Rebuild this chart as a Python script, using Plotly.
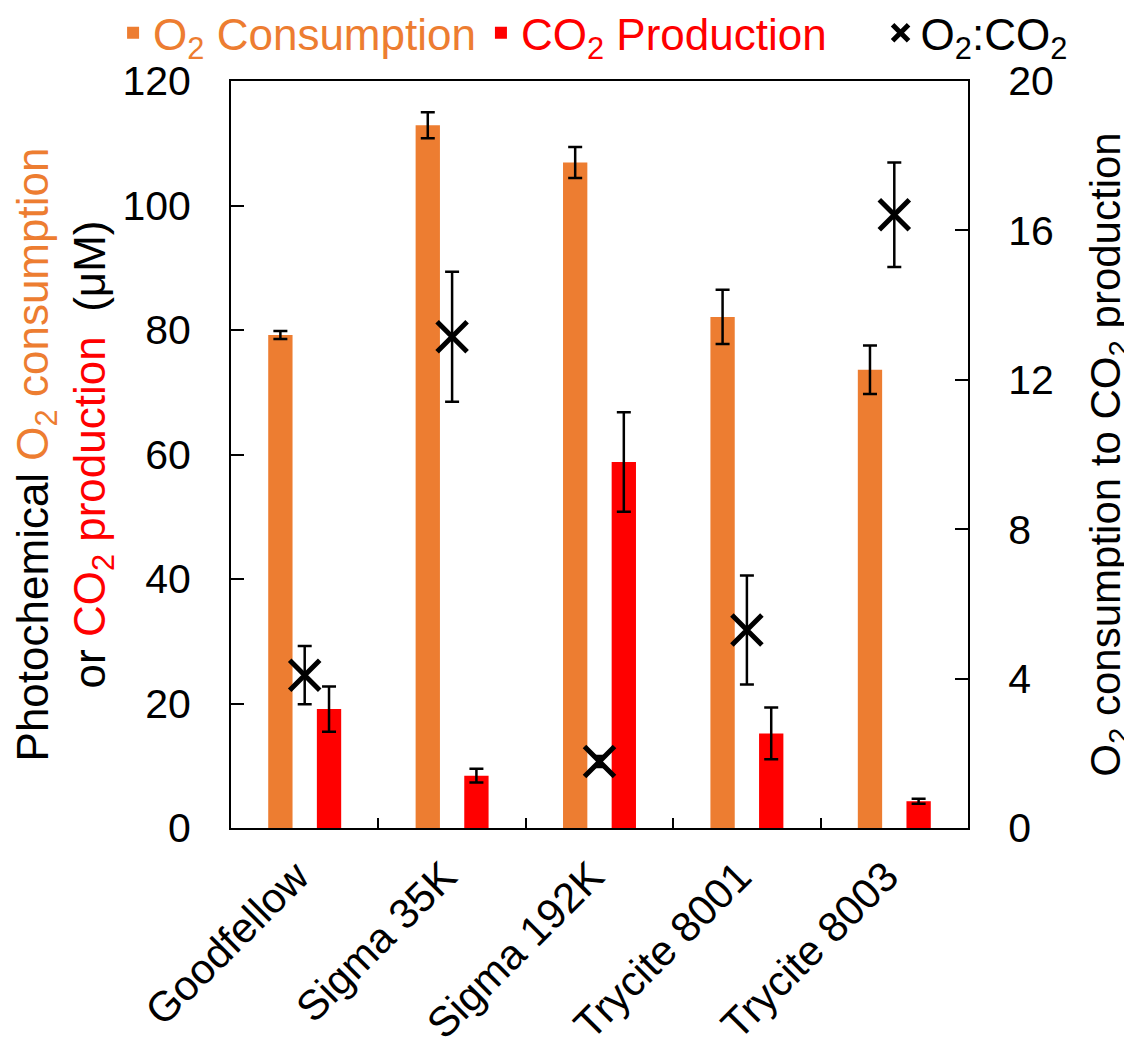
import plotly.graph_objects as go

categories = ["Goodfellow", "Sigma 35K", "Sigma 192K", "Trycite 8001", "Trycite 8003"]
o2_consumption = [79.2, 112.9, 106.9, 82.1, 73.6]
o2_err = [0.65, 2.1, 2.5, 4.35, 3.9]
co2_production = [19.1, 8.4, 58.8, 15.2, 4.3]
co2_err = [3.65, 1.1, 8.0, 4.15, 0.4]
ratio = [4.09, 13.15, 1.78, 5.3, 16.42]
ratio_err = [0.78, 1.74, 0.15, 1.46, 1.4]

ORANGE = "#ED7D31"
RED = "#FF0000"
FONT = "Liberation Sans, Arial, sans-serif"
TICK = 41
TXT = 44
NB = "\u00a0"

fig = go.Figure()
fig.add_trace(go.Bar(
    x=categories, y=o2_consumption, name=f'<span style="color:{ORANGE}">O<sub>2</sub> Consumption</span>',
    marker=dict(color=ORANGE, line=dict(width=0)),
    error_y=dict(type="data", array=o2_err, color="black", thickness=2.5, width=7),
))
fig.add_trace(go.Bar(
    x=categories, y=co2_production,
    name=f'<span style="color:{RED}">CO<sub>2</sub> Production</span>' + NB * 4,
    marker=dict(color=RED, line=dict(width=0)),
    error_y=dict(type="data", array=co2_err, color="black", thickness=2.5, width=7),
))
fig.add_trace(go.Scatter(
    x=categories, y=ratio, yaxis="y2", mode="markers", name="O<sub>2</sub>:CO<sub>2</sub>",
    marker=dict(symbol="x-thin-open", size=30, color="black", line=dict(width=5, color="black")),
    error_y=dict(type="data", array=ratio_err, color="black", thickness=2.5, width=7),
))

fig.update_layout(
    width=1132, height=1048,
    margin=dict(l=223, r=172, t=73, b=228, autoexpand=False),
    plot_bgcolor="white", paper_bgcolor="white",
    font=dict(family=FONT, size=TXT, color="black"),
    barmode="group", bargap=0.34, bargroupgap=0.5,
    showlegend=True,
    legend=dict(orientation="h", x=-0.16, xanchor="left", y=1.064, yanchor="middle",
                font=dict(size=TXT, family=FONT), bgcolor="rgba(0,0,0,0)",
                itemwidth=30, tracegroupgap=0),
    xaxis=dict(
        showline=True, linecolor="black", linewidth=2, mirror=True,
        ticks="inside", tickson="boundaries", ticklen=10, tickwidth=2, tickcolor="black",
        tickangle=-45, tickfont=dict(size=42, family=FONT), showgrid=False,
        ticklabelstandoff=5, ticklabelshift=-8, automargin=False,
    ),
    yaxis=dict(
        range=[0, 120], tickvals=[0, 20, 40, 60, 80, 100, 120],
        showline=True, linecolor="black", linewidth=2,
        ticks="inside", ticklen=13, tickwidth=2, tickcolor="black",
        showgrid=False, zeroline=False, tickfont=dict(size=TICK, family=FONT),
        ticklabelstandoff=30, automargin=False,
        title=dict(
            text=(f'Photochemical <span style="color:{ORANGE}">O<sub>2</sub> consumption</span><br>'
                  f'or <span style="color:{RED}">CO<sub>2</sub> production</span>  (μM)'),
            font=dict(size=TXT, family=FONT), standoff=20),
    ),
    yaxis2=dict(
        range=[0, 20], tickvals=[0, 4, 8, 12, 16, 20], overlaying="y", side="right",
        showline=True, linecolor="black", linewidth=2,
        ticks="inside", ticklen=13, tickwidth=2, tickcolor="black",
        showgrid=False, zeroline=False, tickfont=dict(size=TICK, family=FONT),
        ticklabelstandoff=30, automargin=False,
        title=dict(text="O<sub>2</sub> consumption to CO<sub>2</sub> production",
                   font=dict(size=42, family=FONT), standoff=38),
    ),
)

fig.write_html("out.html")
